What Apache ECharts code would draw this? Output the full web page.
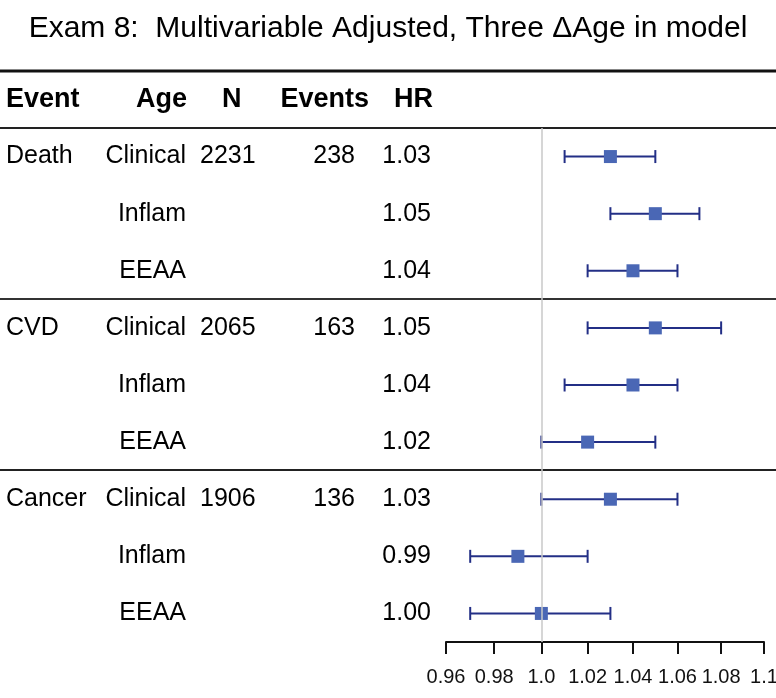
<!DOCTYPE html>
<html>
<head>
<meta charset="utf-8">
<script src="https://cdn.jsdelivr.net/npm/echarts@6/dist/echarts.min.js"></script>
<style>html,body{margin:0;padding:0;background:#fff}#c{width:776px;height:698px}</style>
</head>
<body>
<div id="c"></div>
<script>
var rowIds = ['r0','r1','r2','r3','r4','r5','r6','r7','r8'];
var eventNames = ['Death','','','CVD','','','Cancer','',''];
var ageTypes = ['Clinical','Inflam','EEAA','Clinical','Inflam','EEAA','Clinical','Inflam','EEAA'];
var nValues = ['2231','','','2065','','','1906','',''];
var eventCounts = ['238','','','163','','','136','',''];
var hrLabels = ['1.03','1.05','1.04','1.05','1.04','1.02','1.03','0.99','1.00'];
var hr = [1.03, 1.05, 1.04, 1.05, 1.04, 1.02, 1.03, 0.99, 1.00];
var ciLow = [1.01, 1.03, 1.02, 1.02, 1.01, 1.00, 1.00, 0.97, 0.97];
var ciHigh = [1.05, 1.07, 1.06, 1.08, 1.06, 1.05, 1.06, 1.02, 1.03];
var tickValues = [0.96, 0.98, 1.0, 1.02, 1.04, 1.06, 1.08, 1.1];
var tickLabels = ['0.96','0.98','1.0','1.02','1.04','1.06','1.08','1.1'];
var headers = ['Event','Age','N','Events','HR'];

var FONT = '"Liberation Sans", Arial, sans-serif';
var chart = echarts.init(document.getElementById('c'));

function textCol(values, x, align) {
  return {
    type: 'scatter', xAxisIndex: 1, yAxisIndex: 1, symbolSize: 0, silent: true,
    itemStyle: { opacity: 1 },
    data: values.map(function (v, i) { return { value: [x, i], name: v }; }),
    label: { show: true, position: 'inside', align: align, verticalAlign: 'middle', opacity: 1,
      formatter: function (p) { return p.name; }, fontSize: 25, fontFamily: FONT, color: '#000' }
  };
}

function labelFor(v) {
  var best = 0;
  for (var i = 1; i < tickValues.length; i++) {
    if (Math.abs(tickValues[i] - v) < Math.abs(tickValues[best] - v)) best = i;
  }
  return tickLabels[best];
}

var forestData = hr.map(function (v, i) { return [v, i, ciLow[i], ciHigh[i]]; });
var HFONT = 'bold 27px ' + FONT;
var HTOP = 86;

var option = {
  animation: false,
  backgroundColor: '#fff',
  title: { text: 'Exam 8:  Multivariable Adjusted, Three \u0394Age in model', left: 'center', top: 9,
    textStyle: { fontSize: 30, fontWeight: 'normal', fontFamily: FONT, color: '#000' } },
  grid: [
    { left: 446, right: 12, top: 128, height: 514, outerBoundsMode: 'none', containLabel: false },
    { left: 0, width: 446, top: 128, height: 514, outerBoundsMode: 'none', containLabel: false }
  ],
  xAxis: [
    { type: 'log', logBase: 10, gridIndex: 0, min: 0.96, max: 1.1,
      axisLine: { show: true, lineStyle: { color: '#111', width: 2 } },
      axisTick: { show: true, length: 12, customValues: tickValues, lineStyle: { color: '#111', width: 2 } },
      splitLine: { show: false }, minorTick: { show: false },
      axisLabel: { margin: 25, fontSize: 20, fontFamily: FONT, color: '#111', customValues: tickValues,
        hideOverlap: false, showMinLabel: true, showMaxLabel: true,
        formatter: function (v) { return labelFor(v); } } },
    { type: 'value', gridIndex: 1, min: 0, max: 446, show: false }
  ],
  yAxis: [
    { type: 'category', gridIndex: 0, data: rowIds, inverse: true, show: false },
    { type: 'category', gridIndex: 1, data: rowIds, inverse: true, show: false }
  ],
  graphic: [
    { type: 'line', shape: { x1: 0, y1: 71, x2: 776, y2: 71 }, style: { stroke: '#111', lineWidth: 3 } },
    { type: 'line', shape: { x1: 0, y1: 128, x2: 776, y2: 128 }, style: { stroke: '#222', lineWidth: 2 } },
    { type: 'line', shape: { x1: 0, y1: 299, x2: 776, y2: 299 }, style: { stroke: '#333', lineWidth: 2 } },
    { type: 'line', shape: { x1: 0, y1: 470, x2: 776, y2: 470 }, style: { stroke: '#222', lineWidth: 2 } },
    { type: 'text', left: 6, top: HTOP, style: { text: headers[0], font: HFONT, fill: '#000' } },
    { type: 'text', right: 776 - 187, top: HTOP, style: { text: headers[1], font: HFONT, fill: '#000' } },
    { type: 'text', left: 222, top: HTOP, style: { text: headers[2], font: HFONT, fill: '#000' } },
    { type: 'text', right: 776 - 369, top: HTOP, style: { text: headers[3], font: HFONT, fill: '#000' } },
    { type: 'text', right: 776 - 433, top: HTOP, style: { text: headers[4], font: HFONT, fill: '#000' } }
  ],
  series: [
    {
      type: 'custom', xAxisIndex: 0, yAxisIndex: 0, data: forestData, clip: false,
      renderItem: function (params, api) {
        var c = api.coord([api.value(0), api.value(1)]);
        var lo = api.coord([api.value(2), api.value(1)]);
        var hi = api.coord([api.value(3), api.value(1)]);
        var y = c[1], cap = 6.5, s = 13;
        var ls = { stroke: '#232f86', lineWidth: 2 };
        return { type: 'group', children: [
          { type: 'line', shape: { x1: lo[0], y1: y, x2: hi[0], y2: y }, style: ls },
          { type: 'line', shape: { x1: lo[0], y1: y - cap, x2: lo[0], y2: y + cap }, style: ls },
          { type: 'line', shape: { x1: hi[0], y1: y - cap, x2: hi[0], y2: y + cap }, style: ls },
          { type: 'rect', shape: { x: c[0] - s / 2, y: y - s / 2, width: s, height: s }, style: { fill: '#4a67b5' } }
        ] };
      },
      markLine: { silent: true, symbol: 'none', label: { show: false },
        lineStyle: { color: '#c8c8c8', width: 1.5, type: 'solid' }, data: [{ xAxis: 1 }] },
      z: 3
    },
    textCol(eventNames, 6, 'left'),
    textCol(ageTypes, 186, 'right'),
    textCol(nValues, 200, 'left'),
    textCol(eventCounts, 355, 'right'),
    textCol(hrLabels, 431, 'right')
  ]
};
chart.setOption(option);
</script>
</body>
</html>
